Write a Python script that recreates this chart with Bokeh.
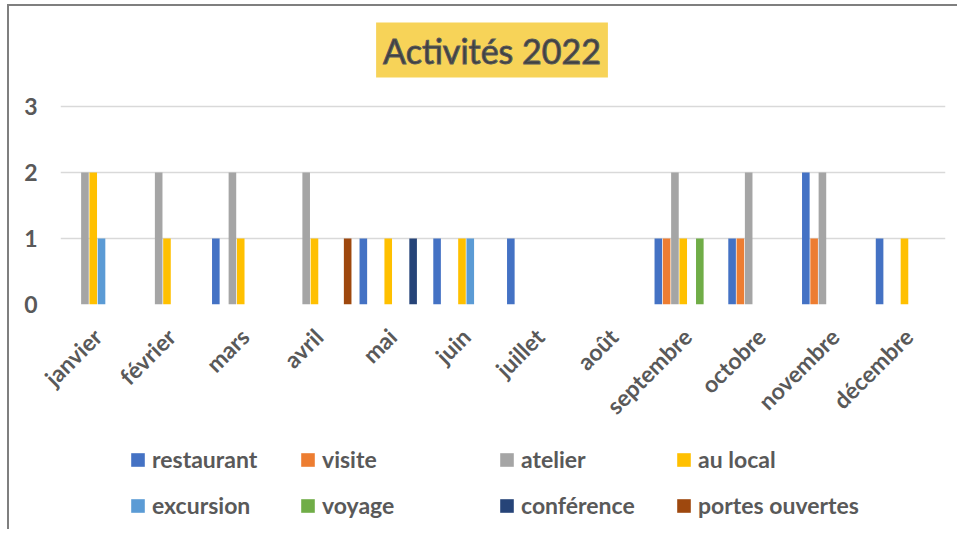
import math
from bokeh.plotting import figure
from bokeh.layouts import column
from bokeh.models import FactorRange, Range1d, FixedTicker, Label, Legend, LegendItem, ColumnDataSource
from bokeh.transform import dodge
from bokeh.embed import file_html
from bokeh.resources import INLINE

months = ["janvier", "février", "mars", "avril", "mai", "juin", "juillet",
          "août", "septembre", "octobre", "novembre", "décembre"]
series = ["restaurant", "visite", "atelier", "au local", "excursion",
          "voyage", "conférence", "portes ouvertes"]
restaurant = [0, 0, 1, 0, 1, 1, 1, 0, 1, 1, 2, 1]
visite = [0, 0, 0, 0, 0, 0, 0, 0, 1, 1, 1, 0]
atelier = [2, 2, 2, 2, 0, 0, 0, 0, 2, 2, 2, 0]
au_local = [2, 1, 1, 1, 1, 1, 0, 0, 1, 0, 0, 1]
excursion = [1, 0, 0, 0, 0, 1, 0, 0, 0, 0, 0, 0]
voyage = [0, 0, 0, 0, 0, 0, 0, 0, 1, 0, 0, 0]
conference = [0, 0, 0, 0, 1, 0, 0, 0, 0, 0, 0, 0]
portes_ouvertes = [0, 0, 0, 1, 0, 0, 0, 0, 0, 0, 0, 0]
colors = ["#4472C4", "#ED7D31", "#A5A5A5", "#FFC000",
          "#5B9BD5", "#70AD47", "#264478", "#9E480E"]
y_ticks = [0, 1, 2, 3]
title_text = "Activités 2022"

values = [restaurant, visite, atelier, au_local, excursion, voyage, conference, portes_ouvertes]
keys = ["s%d" % i for i in range(len(series))]
data = {"month": months}
for k, v in zip(keys, values):
    data[k] = v
source = ColumnDataSource(data)

FONT = "Lato"
GRAY = "#595959"
slot = 0.1125

# ---- main chart ----
p = figure(x_range=FactorRange(*months), y_range=Range1d(0, 4.394),
           width=950, height=428, output_backend="svg", toolbar_location=None,
           min_border_left=51, min_border_right=14, min_border_top=8, min_border_bottom=130)
p.outline_line_color = None
p.background_fill_color = "white"
p.border_fill_color = "white"

for i, (k, c) in enumerate(zip(keys, colors)):
    off = -0.45 + slot * (i + 0.5)
    p.vbar(x=dodge("month", off, range=p.x_range), top=k, bottom=0,
           width=0.103, source=source, fill_color=c, line_color=None)

p.xgrid.grid_line_color = None
p.ygrid.grid_line_color = "#d9d9d9"
p.ygrid.grid_line_width = 1.5
p.yaxis.ticker = FixedTicker(ticks=y_ticks)
p.yaxis.axis_line_color = None
p.yaxis.major_tick_line_color = None
p.yaxis.major_tick_out = 0
p.yaxis.minor_tick_line_color = None
p.yaxis.minor_tick_out = 0
p.yaxis.major_label_standoff = 23
p.yaxis.major_label_text_font = FONT
p.yaxis.major_label_text_font_style = "bold"
p.yaxis.major_label_text_font_size = "23px"
p.yaxis.major_label_text_color = GRAY

p.xaxis.axis_line_color = None
p.xaxis.major_tick_line_color = None
p.xaxis.major_tick_out = 0
p.xaxis.minor_tick_line_color = None
p.xaxis.major_label_orientation = math.pi / 4
p.xaxis.major_label_standoff = 28
p.xaxis.major_label_text_font = FONT
p.xaxis.major_label_text_font_style = "bold"
p.xaxis.major_label_text_font_size = "23px"
p.xaxis.major_label_text_color = GRAY

title = Label(x=5.851, y=3.856, text=title_text, text_font=FONT,
              text_font_size="34px", text_color="#404040",
              text_outline_color="#5a5a5a",
              text_align="center", text_baseline="middle",
              background_fill_color="#F7D358", padding=7)
p.add_layout(title)

# ---- legend strip (frame aligned with the main chart's frame) ----
pl = figure(x_range=FactorRange(*months), y_range=Range1d(0, 1),
            width=950, height=97, output_backend="svg", toolbar_location=None,
            min_border=0)
pl.axis.visible = False
pl.grid.visible = False
pl.outline_line_color = None
pl.background_fill_color = "white"
pl.border_fill_color = "white"
leg_renderers = []
for i, (k, c) in enumerate(zip(keys, colors)):
    off = -0.45 + slot * (i + 0.5)
    r = pl.rect(x=dodge("month", off, range=pl.x_range), y=0, height=k,
                width=0.103, source=source, fill_color=c, line_color=None,
                visible=False)
    leg_renderers.append(r)

columns = [[0, 4], [1, 5], [2, 6], [3, 7]]
xs = [69, 239, 438, 615]
for col, x0 in zip(columns, xs):
    items = [LegendItem(label=series[i], renderers=[leg_renderers[i]]) for i in col]
    lg = Legend(items=items, location=(x0, 12), orientation="vertical",
                border_line_color=None, background_fill_alpha=0,
                inactive_fill_alpha=0,
                padding=0, margin=0, spacing=18, label_standoff=6,
                glyph_width=17, glyph_height=17, label_height=20,
                label_text_font=FONT, label_text_font_style="bold",
                label_text_font_size="23px", label_text_color=GRAY)
    pl.add_layout(lg)

layout = column(p, pl, spacing=0,
                styles={"margin-left": "9px", "margin-top": "6px",
                        "box-shadow": "-2px -2px 0 0 #7f7f7f"})

open("out.html", "w").write(file_html(layout, INLINE))
